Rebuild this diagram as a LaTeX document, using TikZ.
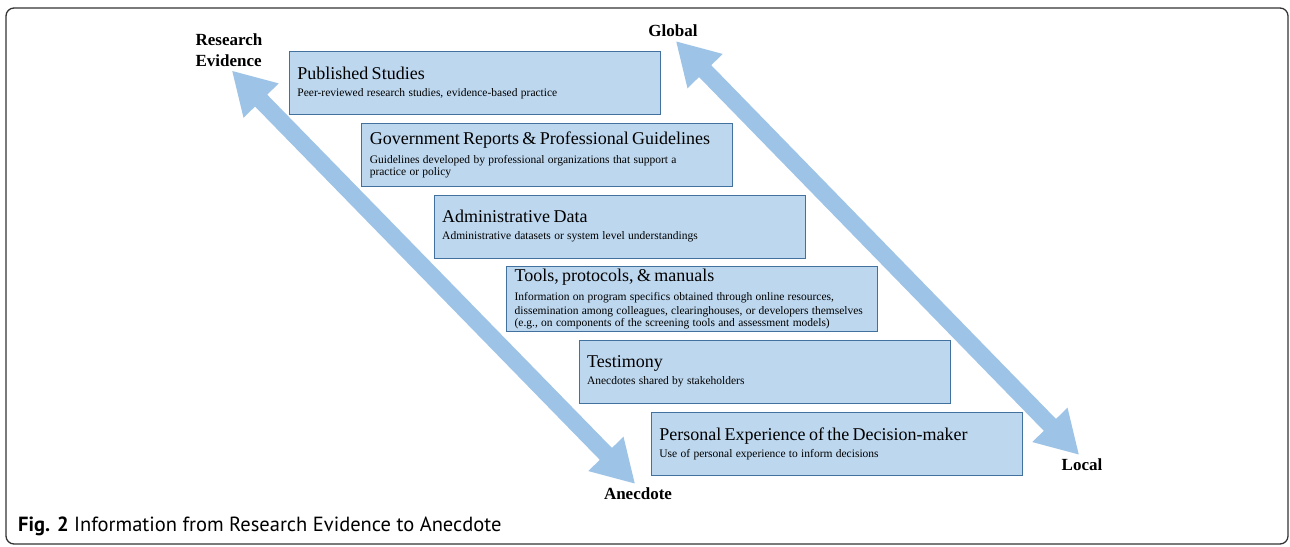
\documentclass[tikz,border=0pt]{standalone}
\usepackage{fontspec}
\setmainfont{Liberation Serif}
\newfontfamily\figcaptionfont{PT Sans}
\usepackage{tikz}
\usetikzlibrary{positioning,arrows.meta}
\definecolor{cardfill}{RGB}{189,215,238}
\definecolor{cardline}{RGB}{65,113,156}
\definecolor{arrowblue}{RGB}{157,195,230}

\begin{document}
\begin{tikzpicture}[x=1pt,y=1pt,
    card/.style={draw=cardline, fill=cardfill, line width=0.8pt,
        minimum width=\cardwidth, minimum height=\cardheight,
        text width=\cardwidth-16pt, inner xsep=8pt, inner ysep=2pt, align=left},
    endlabel/.style={font=\bfseries\fontsize{17}{21}\selectfont, inner sep=1pt},
    bigarrow/.style={draw=arrowblue, line width=17pt,
        {Triangle[width=46pt,length=42pt]}-{Triangle[width=46pt,length=42pt]},
        shorten <=4pt, shorten >=4pt}]
        \newcommand{\cardwidth}{371pt}
        \newcommand{\cardheight}{63pt}
        \newcommand{\cardgap}{8pt}  % vertical gap between cards
        \newcommand{\cardstep}{72.4pt} % each card shifted right by this
        \newcommand{\cardtitle}[1]{{\fontsize{18}{20}\selectfont #1}\\[5pt]}
        \newcommand{\cardtext}{\fontsize{11.5}{14.3}\selectfont}
        \useasboundingbox (0,0) rectangle (1290,546);
        \draw[rounded corners=8pt, line width=1.3pt, black!80] (6,2) rectangle (1288,538);

        % end labels
        \node[endlabel, align=left] (research) at (229,496) {Research\\Evidence};
        \node[endlabel] (anecdote) at (638,52) {Anecdote};
        \node[endlabel] (global) at (673,515) {Global};
        \node[endlabel] (local) at (1082,81) {Local};

        \draw[bigarrow] (research.south) -- (anecdote.north);
        \draw[bigarrow] (global.south) -- (local.north);

        % cards
        \node[card, anchor=north west] (published) at (289,495)
            {\cardtitle{Published Studies}\cardtext Peer-reviewed research studies, evidence-based practice};
        \node[card, below=\cardgap of published.south west, anchor=north west, xshift=\cardstep] (government)
            {\cardtitle{Government Reports \& Professional Guidelines}\cardtext Guidelines developed by professional organizations that support a\\practice or policy};
        \node[card, below=\cardgap of government.south west, anchor=north west, xshift=\cardstep] (admin)
            {\cardtitle{Administrative Data}\cardtext Administrative datasets or system level understandings};
        \node[card, below=\cardgap of admin.south west, anchor=north west, xshift=\cardstep] (tools)
            {\cardtitle{Tools, protocols, \& manuals}\cardtext Information on program specifics obtained through online resources,\\dissemination among colleagues, clearinghouses, or developers themselves\\(e.g., on components of the screening tools and assessment models)};
        \node[card, below=\cardgap of tools.south west, anchor=north west, xshift=\cardstep] (testimony)
            {\cardtitle{Testimony}\cardtext Anecdotes shared by stakeholders};
        \node[card, below=\cardgap of testimony.south west, anchor=north west, xshift=\cardstep] (personal)
            {\cardtitle{Personal Experience of the Decision-maker}\cardtext Use of personal experience to inform decisions};

        \node[anchor=base west, inner sep=0pt, font=\figcaptionfont\fontsize{20.5}{24}\selectfont] (caption) at (18,14)
            {\textbf{Fig. 2} Information from Research Evidence to Anecdote};
\end{tikzpicture}
\end{document}
